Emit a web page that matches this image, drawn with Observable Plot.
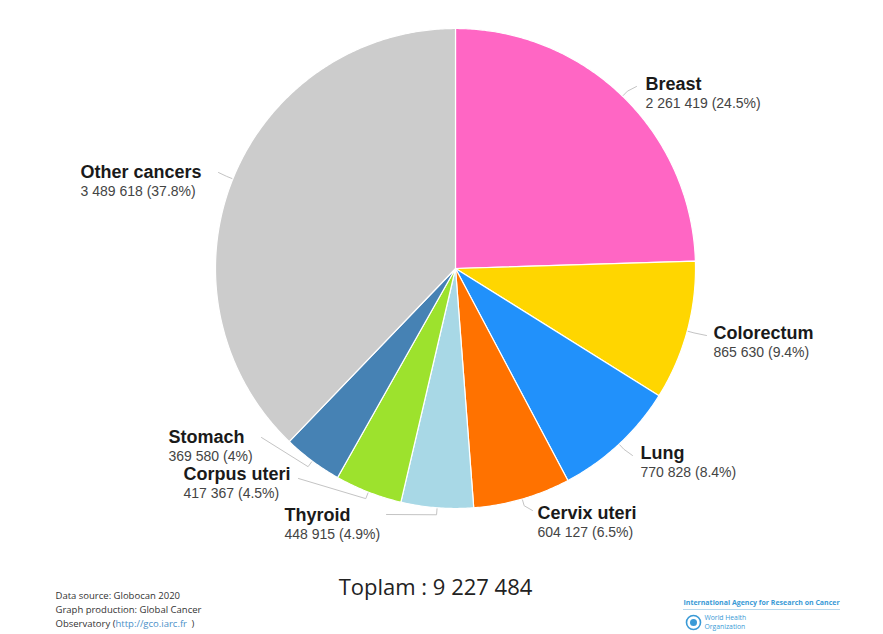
<!DOCTYPE html>
<html>
<head>
<meta charset="utf-8">
<script src="https://cdn.jsdelivr.net/npm/d3@7"></script>
<script src="https://cdn.jsdelivr.net/npm/@observablehq/plot@0.6"></script>
<style>
  html, body { margin: 0; padding: 0; background: #fff; }
  #chart svg { display: block; }
</style>
</head>
<body>
<div id="chart"></div>
<script>
// ---- data ----
const categories = ["Breast", "Colorectum", "Lung", "Cervix uteri", "Thyroid", "Corpus uteri", "Stomach", "Other cancers"];
const values = [2261419, 865630, 770828, 604127, 448915, 417367, 369580, 3489618];
const shares = ["24.5%", "9.4%", "8.4%", "6.5%", "4.9%", "4.5%", "4%", "37.8%"];
const colors = ["#ff66c4", "#ffd600", "#2191fb", "#ff7200", "#a8d8e6", "#9de22d", "#4682b4", "#cccccc"];
const totalLabel = "Toplam";
const sourceLines = ["Data source: Globocan 2020", "Graph production: Global Cancer"];
const observatoryText = "Observatory (";
const observatoryLink = "http://gco.iarc.fr";
const iarcText = "International Agency for Research on Cancer";
const whoLines = ["World Health", "Organization"];

// ---- layout (pixels) ----
const W = 883, H = 634;
const cx = 455, cy = 268, R = 240;
// label text anchor (start of text, centre of name line) and leader-line end
const labelLayout = [
  {x: 645, y: 84,  lx: 636, ly: 86},
  {x: 713, y: 333, lx: 706, ly: 335},
  {x: 640, y: 453, lx: 632, ly: 455},
  {x: 537, y: 513, lx: 532, ly: 510},
  {x: 284, y: 515, lx: 386, ly: 514},
  {x: 183, y: 474, lx: 298, ly: 478},
  {x: 168, y: 437, lx: 261, ly: 437},
  {x: 80,  y: 172, lx: 218, ly: 172}
];

const fmt = v => d3.format(",")(v).replace(/,/g, " ");
const arcs = d3.pie().sort(null).value(d => d)(values);
const px = (a, r) => cx + r * Math.sin(a);
const py = (a, r) => cy - r * Math.cos(a);

// slice polygons
const slicePts = [];
arcs.forEach((a, i) => {
  slicePts.push({cat: categories[i], x: cx, y: cy});
  const n = Math.max(2, Math.ceil((a.endAngle - a.startAngle) / (Math.PI / 360)));
  for (let k = 0; k <= n; k++) {
    const t = a.startAngle + (a.endAngle - a.startAngle) * k / n;
    slicePts.push({cat: categories[i], x: px(t, R), y: py(t, R)});
  }
  slicePts.push({cat: categories[i], x: cx, y: cy});
});

// leader lines
const leaderPts = [];
arcs.forEach((a, i) => {
  const m = (a.startAngle + a.endAngle) / 2;
  const L = labelLayout[i];
  leaderPts.push({cat: categories[i], x: px(m, R + 1), y: py(m, R + 1)});
  leaderPts.push({cat: categories[i], x: px(m, R + 7), y: py(m, R + 7)});
  leaderPts.push({cat: categories[i], x: L.lx, y: L.ly});
});

const labels = categories.map((c, i) => ({
  name: c,
  value: `${fmt(values[i])} (${shares[i]})`,
  x: labelLayout[i].x,
  y: labelLayout[i].y
}));

const total = d3.sum(values);
const srcFont = "Open Sans, sans-serif";

const chart = Plot.plot({
  width: W,
  height: H,
  margin: 0,
  x: {domain: [0, W], range: [0, W], axis: null},
  y: {domain: [0, H], range: [0, H], axis: null},
  color: {domain: categories, range: colors},
  style: {background: "#fff"},
  marks: [
    Plot.line(slicePts, {x: "x", y: "y", z: "cat", fill: "cat", stroke: "#fff", strokeWidth: 1.2, strokeLinejoin: "round"}),
    Plot.line(leaderPts, {x: "x", y: "y", z: "cat", stroke: "#c4c4c4", strokeWidth: 1}),
    Plot.text(labels, {x: "x", y: "y", text: "name", textAnchor: "start", fontSize: 18, fontWeight: "bold", fill: "#1a1a1a", fontFamily: "Liberation Sans, Arial, sans-serif"}),
    Plot.text(labels, {x: "x", y: d => d.y + 19, text: "value", textAnchor: "start", fontSize: 14, fill: "#444", fontFamily: "Liberation Sans, Arial, sans-serif"}),
    // total
    Plot.text([`${totalLabel} : ${fmt(total)}`], {x: 435, y: 587, text: d => d, fontSize: 22, fill: "#222", fontFamily: srcFont}),
    // source
    Plot.text(sourceLines, {x: 55, y: (d, i) => 595 + i * 14, text: d => d, textAnchor: "start", fontSize: 9.5, fill: "#333", fontFamily: srcFont}),
    Plot.text([observatoryText], {x: 55, y: 623, text: d => d, textAnchor: "start", fontSize: 9.5, fill: "#333", fontFamily: srcFont}),
    Plot.text([observatoryLink], {x: 115, y: 623, text: d => d, textAnchor: "start", fontSize: 9.5, fill: "#4a8fc8", fontFamily: srcFont}),
    Plot.text([")"], {x: 191, y: 623, text: d => d, textAnchor: "start", fontSize: 9.5, fill: "#333", fontFamily: srcFont}),
    // IARC / WHO
    Plot.text([iarcText], {x: 683, y: 602, text: d => d, textAnchor: "start", fontSize: 7, fontWeight: "bold", fill: "#3a9ad6", fontFamily: srcFont}),
    Plot.ruleY([609], {x1: 683, x2: 840, stroke: "#b8d8ec", strokeWidth: 1}),
    Plot.dot([0], {x: 693, y: 622, r: 7, fill: "#fff", stroke: "#3a9ad6", strokeWidth: 1.6}),
    Plot.dot([0], {x: 693, y: 622, r: 3.5, fill: "#3a9ad6"}),
    Plot.text(whoLines, {x: 704, y: (d, i) => 617 + i * 9, text: d => d, textAnchor: "start", fontSize: 6.8, fill: "#3a9ad6", fontFamily: srcFont})
  ]
});

document.getElementById("chart").appendChild(chart);
</script>
</body>
</html>
